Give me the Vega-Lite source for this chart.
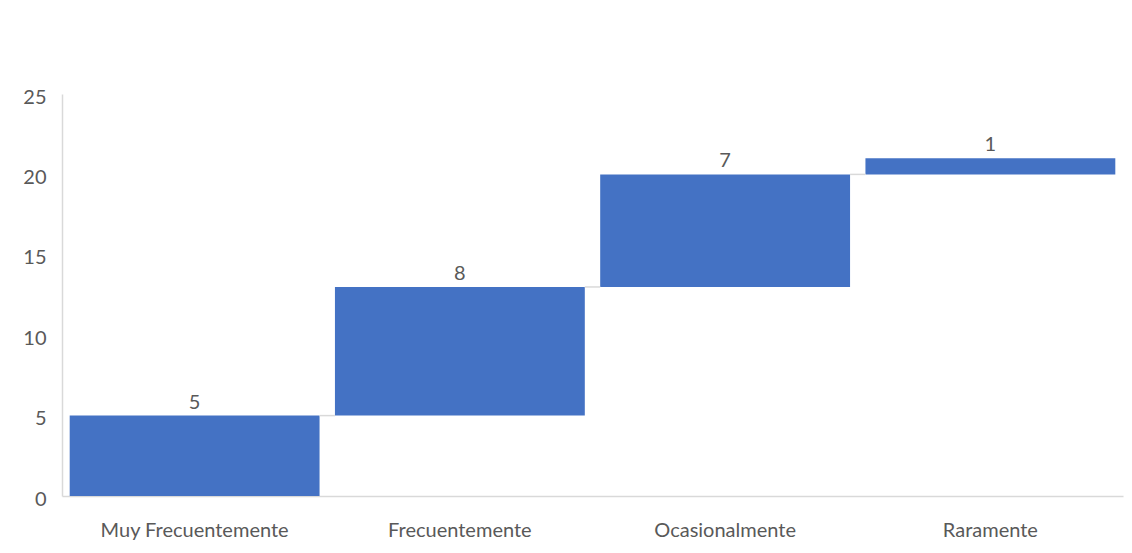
{
  "$schema": "https://vega.github.io/schema/vega-lite/v6.json",
  "width": 1061,
  "height": 402,
  "autosize": {"type": "none"},
  "padding": {"left": 62, "top": 94, "right": 9, "bottom": 57},
  "background": "white",
  "config": {"view": {"stroke": null}, "font": "Lato"},
  "datasets": {
    "bars": [
      {"cat": "Muy Frecuentemente", "start": 0, "end": 5, "value": 5},
      {"cat": "Frecuentemente", "start": 5, "end": 13, "value": 8},
      {"cat": "Ocasionalmente", "start": 13, "end": 20, "value": 7},
      {"cat": "Raramente", "start": 20, "end": 21, "value": 1}
    ],
    "connectors": [
      {"from": "Muy Frecuentemente", "to": "Frecuentemente", "level": 5},
      {"from": "Frecuentemente", "to": "Ocasionalmente", "level": 13},
      {"from": "Ocasionalmente", "to": "Raramente", "level": 20}
    ]
  },
  "layer": [
    {
      "data": {"name": "bars"},
      "mark": {"type": "bar", "color": "#4472C4"},
      "encoding": {
        "x": {
          "field": "cat",
          "type": "nominal",
          "sort": null,
          "scale": {
            "domain": ["Muy Frecuentemente", "Frecuentemente", "Ocasionalmente", "Raramente"],
            "paddingInner": 0.058,
            "paddingOuter": 0.029
          },
          "axis": {
            "title": null,
            "labelAngle": 0,
            "labelAlign": "center",
            "bandPosition": 0.5,
            "labelFontSize": 20,
            "labelLimit": 0,
            "labelColor": "#595959",
            "labelPadding": 24,
            "ticks": false,
            "domainColor": "#d9d9d9",
            "domainWidth": 1.5
          }
        },
        "y": {
          "field": "start",
          "type": "quantitative",
          "scale": {"domain": [0, 25], "nice": false},
          "axis": {
            "title": null,
            "values": [0, 5, 10, 15, 20, 25],
            "grid": false,
            "ticks": false,
            "labelFontSize": 20,
            "labelColor": "#595959",
            "labelPadding": 16,
            "labelOffset": 3,
            "domainColor": "#d9d9d9",
            "domainWidth": 1.5
          }
        },
        "y2": {"field": "end"}
      }
    },
    {
      "data": {"name": "connectors"},
      "mark": {"type": "rule", "color": "#d9d9d9", "strokeWidth": 1.5},
      "encoding": {
        "x": {"field": "from", "type": "nominal", "bandPosition": 1},
        "x2": {"field": "to", "bandPosition": 0},
        "y": {"field": "level", "type": "quantitative"}
      }
    },
    {
      "data": {"name": "bars"},
      "mark": {"type": "text", "color": "#595959", "fontSize": 20, "baseline": "alphabetic", "dy": -7},
      "encoding": {
        "x": {"field": "cat", "type": "nominal", "sort": null},
        "y": {"field": "end", "type": "quantitative"},
        "text": {"field": "value", "type": "quantitative"}
      }
    }
  ]
}
